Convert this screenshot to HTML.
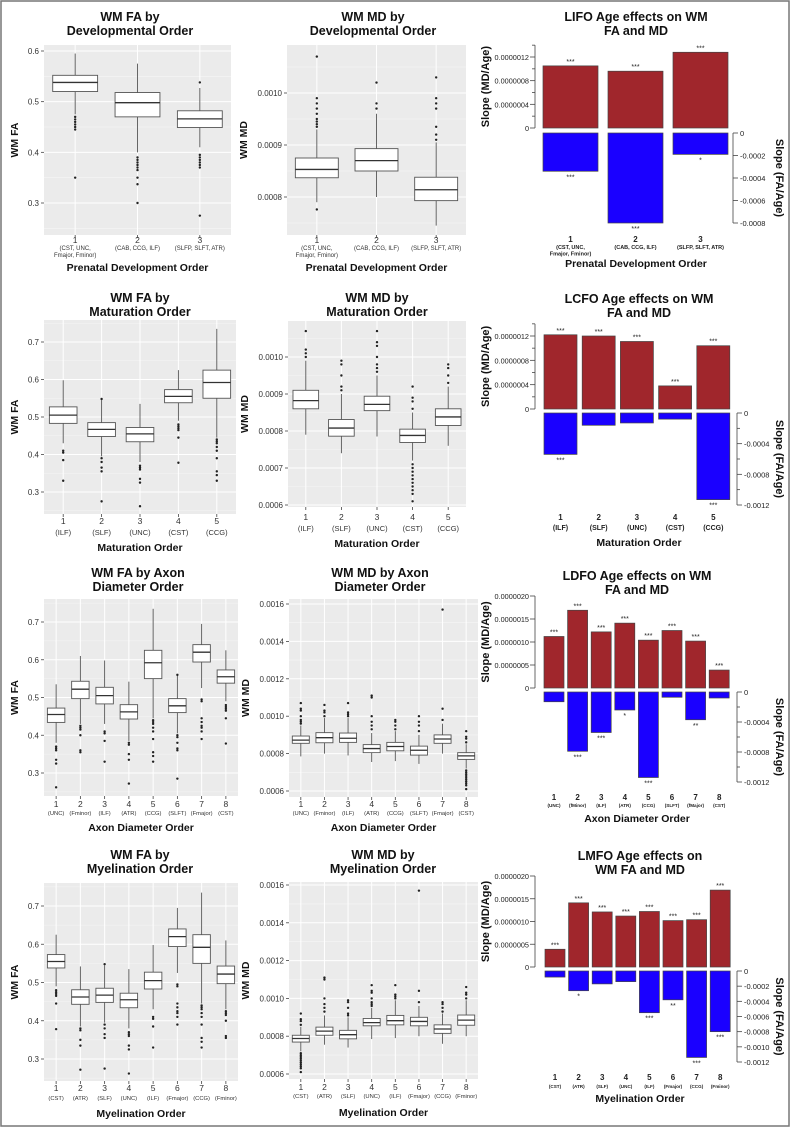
<!DOCTYPE html>
<html><head><meta charset="utf-8">
<style>
html,body{margin:0;padding:0;background:#fff}
svg{display:block;font-family:"Liberation Sans",Arial,sans-serif}
</style></head>
<body>
<svg id="fig" width="791" height="1128" viewBox="0 0 791 1128" xmlns="http://www.w3.org/2000/svg">
<rect x="1" y="1" width="788" height="1125" fill="#fff" stroke="#777" stroke-width="1.5"/>
</svg>
<script>
// ---------- DATA ----------
// box stats: [median, q1, q3, whiskerLow, whiskerHigh]
const devGroups = ["D1","D2","D3"];
const faStats = {
  D1:[0.538,0.52,0.552,0.475,0.595], D2:[0.498,0.47,0.518,0.40,0.575], D3:[0.466,0.449,0.482,0.41,0.527],
  ILF:[0.505,0.483,0.527,0.43,0.598], SLF:[0.467,0.448,0.485,0.395,0.545], UNC:[0.455,0.434,0.472,0.38,0.535],
  CST:[0.555,0.538,0.573,0.49,0.625], CCG:[0.592,0.55,0.625,0.445,0.735], Fminor:[0.522,0.497,0.543,0.43,0.61],
  ATR:[0.462,0.443,0.481,0.385,0.542], SLFT:[0.478,0.46,0.497,0.405,0.562], Fmajor:[0.62,0.594,0.64,0.525,0.695]
};
const faOut = {
  D1:[0.47,0.465,0.46,0.455,0.45,0.445,0.35], D2:[0.39,0.385,0.38,0.375,0.37,0.365,0.35,0.337,0.30], D3:[0.538,0.395,0.39,0.385,0.38,0.375,0.37,0.275],
  ILF:[0.41,0.405,0.385,0.33], SLF:[0.548,0.39,0.38,0.365,0.355,0.275], UNC:[0.37,0.365,0.36,0.335,0.325,0.262],
  CST:[0.48,0.475,0.47,0.465,0.445,0.378], CCG:[0.44,0.435,0.43,0.42,0.41,0.39,0.355,0.345,0.33],
  Fminor:[0.425,0.42,0.415,0.40,0.36,0.355], ATR:[0.38,0.375,0.35,0.335,0.272], SLFT:[0.56,0.40,0.395,0.38,0.365,0.36,0.285],
  Fmajor:[0.495,0.49,0.445,0.435,0.425,0.42,0.41,0.39]
};
const mdStats = {
  D1:[0.000853,0.000837,0.000875,0.00079,0.00093], D2:[0.00087,0.00085,0.000893,0.0008,0.00096], D3:[0.000814,0.000793,0.000838,0.000745,0.000905],
  ILF:[0.000882,0.00086,0.00091,0.00079,0.00099], SLF:[0.000808,0.000786,0.000831,0.00074,0.0009], UNC:[0.000872,0.000855,0.000894,0.000785,0.00095],
  CST:[0.000788,0.000769,0.000805,0.00072,0.00085], CCG:[0.000838,0.000815,0.00086,0.00076,0.00092],
  Fminor:[0.000885,0.000858,0.000912,0.0008,0.00099], ATR:[0.000827,0.000805,0.000848,0.000755,0.00091],
  SLFT:[0.000818,0.000792,0.00084,0.000745,0.0009], Fmajor:[0.000878,0.000855,0.0009,0.0008,0.00096]
};
const mdOut = {
  D1:[0.000935,0.00094,0.000945,0.00095,0.00096,0.00097,0.00098,0.00099,0.00107,0.000776], D2:[0.00097,0.00098,0.00102], D3:[0.00091,0.00092,0.000935,0.00097,0.00098,0.00099,0.00103],
  ILF:[0.001,0.00101,0.00102,0.00107], SLF:[0.00091,0.00092,0.00095,0.00098,0.00099], UNC:[0.00096,0.00097,0.00098,0.001,0.00103,0.00104,0.00107],
  CST:[0.00086,0.00088,0.00089,0.00092,0.00071,0.0007,0.00069,0.00068,0.00067,0.00066,0.00065,0.00064,0.00063,0.00061],
  CCG:[0.00093,0.00095,0.00097,0.00098], Fminor:[0.001,0.00102,0.00103,0.00106], ATR:[0.00093,0.00095,0.00097,0.001,0.0011,0.00111],
  SLFT:[0.00092,0.00095,0.00097,0.001], Fmajor:[0.00098,0.00104,0.00157]
};
const matOrder = ["ILF","SLF","UNC","CST","CCG"];
const axonOrder = ["UNC","Fminor","ILF","ATR","CCG","SLFT","Fmajor","CST"];
const myelOrder = ["CST","ATR","SLF","UNC","ILF","Fmajor","CCG","Fminor"];
const faTicks = [0.3,0.4,0.5,0.6,0.7];
const mdTicksA = [0.0008,0.0009,0.0010];
const mdTicksB = [0.0006,0.0007,0.0008,0.0009,0.0010];
const mdTicksC = [0.0006,0.0008,0.0010,0.0012,0.0014,0.0016];
// bar slopes
const lifoMD = [1.05e-6,0.96e-6,1.28e-6];
const lifoFA = [-0.00034,-0.00080,-0.00019];
const lifoStarUp = ["***","***","***"], lifoStarDn = ["***","***","*"];
const lcfoMD = [1.22e-6,1.20e-6,1.11e-6,0.38e-6,1.04e-6];
const lcfoFA = [-0.00054,-0.00016,-0.00013,-0.00008,-0.00113];
const lcfoStarUp = ["***","***","***","***","***"], lcfoStarDn = ["***","","","","***"];
const ldfoMD = [1.12e-6,1.69e-6,1.22e-6,1.41e-6,1.04e-6,1.25e-6,1.02e-6,0.39e-6];
const ldfoFA = [-0.00013,-0.00079,-0.00054,-0.00024,-0.00114,-0.00007,-0.00037,-0.00008];
const ldfoStarUp = ["***","***","***","***","***","***","***","***"], ldfoStarDn = ["","***","***","*","***","","**",""];
const lmfoMD = [0.39e-6,1.41e-6,1.21e-6,1.12e-6,1.22e-6,1.02e-6,1.04e-6,1.69e-6];
const lmfoFA = [-0.00008,-0.00026,-0.00017,-0.00014,-0.00055,-0.00038,-0.00114,-0.00080];
const lmfoStarUp = ["***","***","***","***","***","***","***","***"], lmfoStarDn = ["","*","","","***","**","***","***"];

// ---------- DRAW ----------
const NS="http://www.w3.org/2000/svg";
const svg=document.getElementById('fig');
function el(tag,attrs,parent,text){const e=document.createElementNS(NS,tag);for(const k in attrs)e.setAttribute(k,attrs[k]);if(text!==undefined)e.textContent=text;(parent||svg).appendChild(e);return e;}
function lin(v1,p1,v2,p2){return v=>p1+(v-v1)*(p2-p1)/(v2-v1);}

function boxPanel(c){
  const g=el('g',{});
  
  
  const y=lin(c.tA[0],c.tA[1],c.tB[0],c.tB[1]);
  const bg=el('rect',{x:c.x0,y:c.y0,width:c.x1-c.x0,height:c.y1-c.y0,fill:'#ebebeb'},g);
  
  
  const step=c.ticks[1]-c.ticks[0];
  for(let i=-1;i<=c.ticks.length;i++){
    const mv=c.ticks[0]+(i+0.5)*step, py=y(mv);
    if(py>c.y0&&py<c.y1) el('line',{x1:c.x0,x2:c.x1,y1:py,y2:py,stroke:'#f6f6f6','stroke-width':0.6},g);
  }
  c.ticks.forEach(t=>{
    const py=y(t);
    el('line',{x1:c.x0,x2:c.x1,y1:py,y2:py,stroke:'#fff','stroke-width':1},g);
    el('line',{x1:c.x0-3,x2:c.x0,y1:py,y2:py,stroke:'#444','stroke-width':0.8},g);
    const tl=el('text',{x:c.x0-5,y:py+3,'font-size':8,'text-anchor':'end',fill:'#333'},g,c.fmt(t));
    
    
  });
  const n=c.cats.length, band=(c.x1-c.x0)/n, bw=band*0.72;
  c.cats.forEach((k,i)=>{
    const cx=c.x0+band*(i+0.5);
    el('line',{x1:cx,x2:cx,y1:c.y0,y2:c.y1,stroke:'#fff','stroke-width':1},g);
    const s=c.stats[k];
    const bx=el('g',{},g);
    
    
    el('line',{x1:cx,x2:cx,y1:y(s[4]),y2:y(s[2]),stroke:'#555','stroke-width':0.9},bx);
    el('line',{x1:cx,x2:cx,y1:y(s[1]),y2:y(s[3]),stroke:'#555','stroke-width':0.9},bx);
    el('rect',{x:cx-bw/2,y:y(s[2]),width:bw,height:y(s[1])-y(s[2]),fill:'#fff',stroke:'#555','stroke-width':0.9},bx);
    el('line',{x1:cx-bw/2,x2:cx+bw/2,y1:y(s[0]),y2:y(s[0]),stroke:'#333','stroke-width':1.3},bx);
    c.out[k].forEach(o=>el('circle',{cx:cx,cy:y(o),r:1.2,fill:'#222'},bx));
    el('line',{x1:cx,x2:cx,y1:c.y1,y2:c.y1+3,stroke:'#444','stroke-width':0.8},g);
    const xl=el('text',{x:cx,y:c.numY,'font-size':8.5,'text-anchor':'middle',fill:'#333'},g,String(i+1));
    
    
    c.subs[i].forEach((s2,j)=>el('text',{x:cx,y:c.subY+j*7,'font-size':c.subFs,'text-anchor':'middle',fill:'#333'},g,s2));
  });
  c.title.forEach((t,j)=>{
    const tt=el('text',{x:c.tx,y:c.ty+j*14,'font-size':12.5,'font-weight':'bold','text-anchor':'middle',fill:'#111'},g,t);
    
    
  });
  const xt=el('text',{x:(c.x0+c.x1)/2,y:c.xtY,'font-size':10.5,'font-weight':'bold','text-anchor':'middle',fill:'#111'},g,c.xtitle);
  
  
  const ym=(c.y0+c.y1)/2, yx=c.x0-c.ytOff;
  const yt=el('text',{x:yx,y:ym,'font-size':10.5,'font-weight':'bold','text-anchor':'middle',fill:'#111',transform:`rotate(-90 ${yx} ${ym})`},g,c.ytitle);
  
  
}

function barPanel(c){
  const g=el('g',{});
  
  
  const yu=lin(0,c.uz,c.uRef[0],c.uRef[1]);
  const yd=lin(0,c.dz,c.dRef[0],c.dRef[1]);
  const LX=535, RX=c.rx;
  el('line',{x1:LX,x2:LX,y1:yu(0),y2:yu(c.uTop),stroke:'#444','stroke-width':0.8},g);
  for(let v=0;v<=c.uTop+1e-12;v+=c.uMinor){
    const py=yu(v), major=Math.abs(Math.round(v/c.uMajor)*c.uMajor-v)<1e-12;
    el('line',{x1:LX-(major?5:3),x2:LX,y1:py,y2:py,stroke:'#444','stroke-width':0.8},g);
    if(major){const t=el('text',{x:LX-6,y:py+3,'font-size':7.3,'text-anchor':'end',fill:'#222'},g,v===0?'0':v.toFixed(7));
      
      }
  }
  el('line',{x1:RX,x2:RX,y1:yd(0),y2:yd(c.dBot),stroke:'#444','stroke-width':0.8},g);
  for(let v=0;v>=c.dBot-1e-12;v-=c.dMinor){
    const py=yd(v), major=Math.abs(Math.round(v/c.dMajor)*c.dMajor-v)<1e-12;
    el('line',{x1:RX,x2:RX+(major?5:3),y1:py,y2:py,stroke:'#444','stroke-width':0.8},g);
    if(major){const t=el('text',{x:RX+7,y:py+3,'font-size':7.5,fill:'#222'},g,Math.abs(v)<1e-12?'0':v.toFixed(4));
      
      }
  }
  c.md.forEach((v,i)=>{
    const bx=c.bx+i*c.step;
    const r=el('rect',{x:bx,y:yu(v),width:c.bw,height:yu(0)-yu(v),fill:'#a0262c',stroke:'#444','stroke-width':0.7},g);
    
    
    el('text',{x:bx+c.bw/2,y:yu(v)-2,'font-size':7,'text-anchor':'middle',fill:'#222'},g,c.su[i]);
    const f=c.fa[i];
    const r2=el('rect',{x:bx,y:yd(0),width:c.bw,height:yd(f)-yd(0),fill:'#1a00ff',stroke:'#444','stroke-width':0.7},g);
    
    
    el('text',{x:bx+c.bw/2,y:yd(f)+8,'font-size':7,'text-anchor':'middle',fill:'#222'},g,c.sd[i]);
    const xl=el('text',{x:bx+c.bw/2,y:c.numY,'font-size':8,'font-weight':'bold','text-anchor':'middle',fill:'#222'},g,String(i+1));
    
    
    c.subs[i].forEach((s2,j)=>el('text',{x:bx+c.bw/2,y:c.subY+j*6.5,'font-size':c.subFs,'font-weight':'bold','text-anchor':'middle',fill:'#222'},g,s2));
  });
  c.title.forEach((t,j)=>{
    const tt=el('text',{x:c.tx,y:c.ty+j*14,'font-size':12.5,'font-weight':'bold','text-anchor':'middle',fill:'#111'},g,t);
    
    
  });
  const xt=el('text',{x:c.tx,y:c.xtY,'font-size':10.5,'font-weight':'bold','text-anchor':'middle',fill:'#111'},g,c.xtitle);
  
  
  const lm=(yu(0)+yu(c.uTop))/2;
  const lt=el('text',{x:489,y:lm,'font-size':11,'font-weight':'bold','text-anchor':'middle',fill:'#111',transform:`rotate(-90 489 ${lm})`},g,'Slope (MD/Age)');
  
  
  const rm=(yd(0)+yd(c.dBot))/2;
  const rt=el('text',{x:776,y:rm,'font-size':11,'font-weight':'bold','text-anchor':'middle',fill:'#111',transform:`rotate(90 776 ${rm})`},g,'Slope (FA/Age)');
  
  
}

const f1=t=>t.toFixed(1), f4=t=>t.toFixed(4);
const devSubs=[["(CST, UNC,","Fmajor, Fminor)"],["(CAB, CCG, ILF)"],["(SLFP, SLFT, ATR)"]];
const wrap=a=>a.map(s=>["("+s+")"]);

// Row 1
boxPanel({name:'fa-developmental-boxplot',x0:44,x1:231,y0:45,y1:235,tA:[0.6,51],tB:[0.3,203],ticks:[0.3,0.4,0.5,0.6],fmt:f1,
  cats:devGroups,stats:faStats,out:faOut,subs:devSubs,subFs:6,numY:243,subY:250,title:['WM FA by','Developmental Order'],tx:130,ty:21,
  xtitle:'Prenatal Development Order',xtY:271,ytitle:'WM FA',ytOff:26});
boxPanel({name:'md-developmental-boxplot',x0:287,x1:466,y0:45,y1:235,tA:[0.0010,93],tB:[0.0008,197],ticks:mdTicksA,fmt:f4,
  cats:devGroups,stats:mdStats,out:mdOut,subs:devSubs,subFs:6,numY:243,subY:250,title:['WM MD by','Developmental Order'],tx:373,ty:21,
  xtitle:'Prenatal Development Order',xtY:271,ytitle:'WM MD',ytOff:40});
barPanel({name:'lifo-slope-chart',bx:543,bw:55,step:65,uz:128,uRef:[1.2e-6,57],uTop:1.4e-6,uMajor:4e-7,uMinor:2e-7,
  dz:133,dRef:[-0.0008,223],dBot:-0.0008,dMajor:0.0002,dMinor:0.0002,rx:733,md:lifoMD,fa:lifoFA,su:lifoStarUp,sd:lifoStarDn,
  subs:[["(CST, UNC,","Fmajor, Fminor)"],["(CAB, CCG, ILF)"],["(SLFP, SLFT, ATR)"]],subFs:5.5,numY:242,subY:249,
  title:['LIFO Age effects on WM','FA and MD'],tx:636,ty:21,xtitle:'Prenatal Development Order',xtY:267});

// Row 2
boxPanel({name:'fa-maturation-boxplot',x0:44,x1:236,y0:320,y1:514,tA:[0.7,342],tB:[0.3,492],ticks:faTicks,fmt:f1,
  cats:matOrder,stats:faStats,out:faOut,subs:wrap(matOrder),subFs:7.5,numY:524,subY:535,title:['WM FA by','Maturation Order'],tx:140,ty:302,
  xtitle:'Maturation Order',xtY:551,ytitle:'WM FA',ytOff:26});
boxPanel({name:'md-maturation-boxplot',x0:288,x1:466,y0:321,y1:507,tA:[0.0010,357],tB:[0.0006,505],ticks:mdTicksB,fmt:f4,
  cats:matOrder,stats:mdStats,out:mdOut,subs:wrap(matOrder),subFs:7.5,numY:520,subY:531,title:['WM MD by','Maturation Order'],tx:377,ty:302,
  xtitle:'Maturation Order',xtY:547,ytitle:'WM MD',ytOff:40});
barPanel({name:'lcfo-slope-chart',bx:544,bw:33,step:38.2,uz:409,uRef:[1.2e-6,336],uTop:1.4e-6,uMajor:4e-7,uMinor:2e-7,
  dz:413,dRef:[-0.0012,505],dBot:-0.0012,dMajor:0.0004,dMinor:0.0002,rx:737,md:lcfoMD,fa:lcfoFA,su:lcfoStarUp,sd:lcfoStarDn,
  subs:wrap(matOrder),subFs:7,numY:520,subY:530,
  title:['LCFO Age effects on WM','FA and MD'],tx:639,ty:303,xtitle:'Maturation Order',xtY:546});

// Row 3
boxPanel({name:'fa-axon-diameter-boxplot',x0:44,x1:238,y0:599,y1:796,tA:[0.7,622],tB:[0.3,773],ticks:faTicks,fmt:f1,
  cats:axonOrder,stats:faStats,out:faOut,subs:wrap(axonOrder),subFs:5.8,numY:807,subY:815,title:['WM FA by Axon','Diameter Order'],tx:138,ty:577,
  xtitle:'Axon Diameter Order',xtY:831,ytitle:'WM FA',ytOff:26});
boxPanel({name:'md-axon-diameter-boxplot',x0:289,x1:478,y0:599,y1:797,tA:[0.0016,604],tB:[0.0006,791],ticks:mdTicksC,fmt:f4,
  cats:axonOrder,stats:mdStats,out:mdOut,subs:wrap(axonOrder),subFs:5.8,numY:807,subY:815,title:['WM MD by Axon','Diameter Order'],tx:380,ty:577,
  xtitle:'Axon Diameter Order',xtY:831,ytitle:'WM MD',ytOff:40});
barPanel({name:'ldfo-slope-chart',bx:544,bw:20,step:23.6,uz:688,uRef:[2e-6,596],uTop:2e-6,uMajor:5e-7,uMinor:5e-7,
  dz:692,dRef:[-0.0012,782],dBot:-0.0012,dMajor:0.0004,dMinor:0.0002,rx:737,md:ldfoMD,fa:ldfoFA,su:ldfoStarUp,sd:ldfoStarDn,
  subs:wrap(["UNC","fMinor","ILF","ATR","CCG","SLFT","fMajor","CST"]),subFs:4.6,numY:800,subY:807,
  title:['LDFO Age effects on WM','FA and MD'],tx:637,ty:580,xtitle:'Axon Diameter Order',xtY:822});

// Row 4
boxPanel({name:'fa-myelination-boxplot',x0:44,x1:238,y0:883,y1:1081,tA:[0.7,906],tB:[0.3,1059],ticks:faTicks,fmt:f1,
  cats:myelOrder,stats:faStats,out:faOut,subs:wrap(myelOrder),subFs:5.8,numY:1091,subY:1100,title:['WM FA by','Myelination Order'],tx:140,ty:859,
  xtitle:'Myelination Order',xtY:1117,ytitle:'WM FA',ytOff:26});
boxPanel({name:'md-myelination-boxplot',x0:289,x1:478,y0:882,y1:1079,tA:[0.0016,885],tB:[0.0006,1074],ticks:mdTicksC,fmt:f4,
  cats:myelOrder,stats:mdStats,out:mdOut,subs:wrap(myelOrder),subFs:5.8,numY:1090,subY:1098,title:['WM MD by','Myelination Order'],tx:383,ty:859,
  xtitle:'Myelination Order',xtY:1116,ytitle:'WM MD',ytOff:40});
barPanel({name:'lmfo-slope-chart',bx:545,bw:20,step:23.6,uz:967,uRef:[2e-6,876],uTop:2e-6,uMajor:5e-7,uMinor:5e-7,
  dz:971,dRef:[-0.0012,1062],dBot:-0.0012,dMajor:0.0002,dMinor:0.0002,rx:737,md:lmfoMD,fa:lmfoFA,su:lmfoStarUp,sd:lmfoStarDn,
  subs:wrap(myelOrder),subFs:4.6,numY:1080,subY:1088,
  title:['LMFO Age effects on','WM FA and MD'],tx:640,ty:860,xtitle:'Myelination Order',xtY:1102});
</script>
</body></html>
